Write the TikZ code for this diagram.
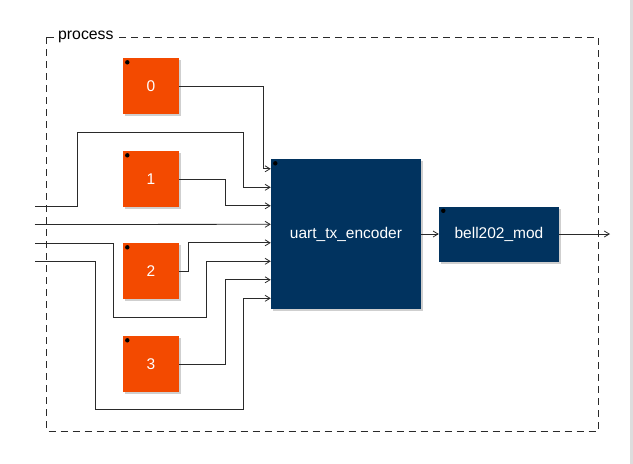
\documentclass[tikz,border=0pt]{standalone}
\usepackage{fontspec}
\setmainfont{Liberation Sans}
\usetikzlibrary{arrows.meta,calc}
\definecolor{blkorange}{HTML}{F34A00}
\definecolor{blknavy}{HTML}{01335F}
\definecolor{shadowgray}{HTML}{CFCFCF}
\definecolor{wiregray}{HTML}{2A2A2A}
\begin{document}
\begin{tikzpicture}[x=1pt,y=-1pt,
  blockbase/.style={draw=none,inner sep=0pt,text=white,font=\fontsize{15.5}{18}\selectfont},
  orangeblk/.style={blockbase,fill=blkorange,minimum width=56pt,minimum height=56pt},
  navyblk/.style={blockbase,fill=blknavy},
  wire/.style={draw=wiregray,line width=0.8pt},
  arr/.style={wire,-{Straight Barb[length=5pt,width=6pt]}},
  framebox/.style={draw=wiregray,line width=0.75pt,dash pattern=on 7pt off 5pt},
  shadowfill/.style={fill=shadowgray,draw=none}
]
\useasboundingbox (0,0) rectangle (633,464);
\fill[shadowgray!70] (629.5,0) rectangle (633,464);
% frame
\draw[framebox] (46.5,37) rectangle (598,431);
\node[fill=white,inner sep=3pt,anchor=west,font=\fontsize{15.8}{18}\selectfont] (lbl) at (55,37) {process};
% shadows
\foreach \cx/\cy in {151/86,151/179,151/271,151/364}{
  \fill[shadowgray] (\cx-28+2,\cy-28+2) rectangle (\cx+28+2,\cy+28+2);
}
\fill[shadowgray] (273,161) rectangle (423,311);
\fill[shadowgray] (441,209) rectangle (561,264);
% blocks
\node[orangeblk] (b0) at (151,86) {0};
\node[orangeblk] (b1) at (151,179) {1};
\node[orangeblk] (b2) at (151,271) {2};
\node[orangeblk] (b3) at (151,364) {3};
\node[navyblk,minimum width=150pt,minimum height=150pt] (enc) at (346,234) {uart\_tx\_encoder};
\node[navyblk,minimum width=120pt,minimum height=55pt] (bell) at (499,234) {bell202\_mod};
% dots
\foreach \n in {b0,b1,b2,b3,enc,bell}{
  \fill[black] ($(\n.north west)+(4.5,4.5)$) circle (2.2pt);
}
% ports
\foreach \i in {1,...,8}{
  \coordinate (p\i) at ($(enc.north west)+(0,{10+18.5*(\i-1)})$);
}
\coordinate (in1) at (35,206);
\coordinate (in2) at (35,224.5);
\coordinate (in3) at (35,243);
\coordinate (in4) at (35,261.5);
\coordinate (out) at (610,234);
% wires
\draw[arr] (b0.east) -- ++(84,0) |- (p1);
\draw[arr] (in1) -- (77,206) |- (243,132) |- (p2);
\draw[arr] (b1.east) -- ++(46,0) |- (p3);
\draw[arr] (in2) -- (p4);
\draw[arr] (b2.east) -- ++(9,0) |- (p5);
\draw[arr] (in3) -- (113,243) |- (206,317) |- (p6);
\draw[arr] (b3.east) -- ++(46,0) |- (p7);
\draw[arr] (in4) -- (95,261.5) |- (243,409.5) |- (p8);
\draw[arr] (enc.east) -- (bell.west);
\draw[arr] (bell.east) -- (out);
\end{tikzpicture}
\end{document}
